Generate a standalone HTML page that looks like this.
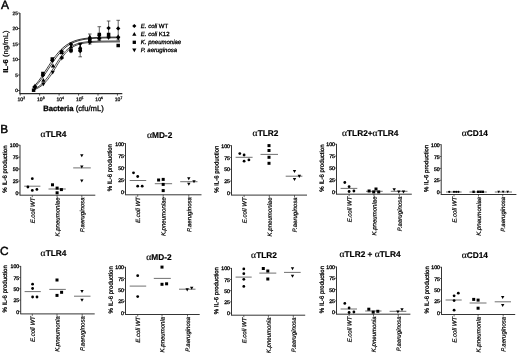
<!DOCTYPE html>
<html><head><meta charset="utf-8"><style>
html,body{margin:0;padding:0;background:#fff;width:520px;height:353px;overflow:hidden}
svg{display:block;filter:grayscale(100%) blur(0.3px);text-rendering:geometricPrecision}
text{fill:#000;stroke:#000;stroke-width:0.3px}
</style></head><body>
<svg width="520" height="353" viewBox="0 0 520 353">
<text x="1.0" y="8.7" font-size="12" style="stroke-width:0.45px" font-family="Liberation Sans, sans-serif">A</text>
<line x1="19.9" y1="13" x2="19.9" y2="93.6" stroke="#2a2a2a" stroke-width="1.2"/>
<line x1="19.299999999999997" y1="93.6" x2="122.3" y2="93.6" stroke="#2a2a2a" stroke-width="1.2"/>
<line x1="17.9" y1="90.50" x2="19.9" y2="90.50" stroke="#2a2a2a" stroke-width="0.8"/>
<text x="17.9" y="92.25" font-size="4.75" text-anchor="end" style="stroke-width:0.25px" font-family="Liberation Sans, sans-serif">0</text>
<line x1="17.9" y1="75.00" x2="19.9" y2="75.00" stroke="#2a2a2a" stroke-width="0.8"/>
<text x="17.9" y="76.75" font-size="4.75" text-anchor="end" style="stroke-width:0.25px" font-family="Liberation Sans, sans-serif">5</text>
<line x1="17.9" y1="59.50" x2="19.9" y2="59.50" stroke="#2a2a2a" stroke-width="0.8"/>
<text x="17.9" y="61.25" font-size="4.75" text-anchor="end" style="stroke-width:0.25px" font-family="Liberation Sans, sans-serif">10</text>
<line x1="17.9" y1="44.00" x2="19.9" y2="44.00" stroke="#2a2a2a" stroke-width="0.8"/>
<text x="17.9" y="45.75" font-size="4.75" text-anchor="end" style="stroke-width:0.25px" font-family="Liberation Sans, sans-serif">15</text>
<line x1="17.9" y1="28.50" x2="19.9" y2="28.50" stroke="#2a2a2a" stroke-width="0.8"/>
<text x="17.9" y="30.25" font-size="4.75" text-anchor="end" style="stroke-width:0.25px" font-family="Liberation Sans, sans-serif">20</text>
<line x1="17.9" y1="13.00" x2="19.9" y2="13.00" stroke="#2a2a2a" stroke-width="0.8"/>
<text x="17.9" y="14.75" font-size="4.75" text-anchor="end" style="stroke-width:0.25px" font-family="Liberation Sans, sans-serif">25</text>
<line x1="20.20" y1="93.6" x2="20.20" y2="95.6" stroke="#2a2a2a" stroke-width="0.8"/>
<text x="21.30" y="101.0" font-size="5.1" text-anchor="middle" style="stroke-width:0.25px" font-family="Liberation Sans, sans-serif">10<tspan font-size="3.3" dy="-2">2</tspan></text>
<line x1="39.65" y1="93.6" x2="39.65" y2="95.6" stroke="#2a2a2a" stroke-width="0.8"/>
<text x="40.75" y="101.0" font-size="5.1" text-anchor="middle" style="stroke-width:0.25px" font-family="Liberation Sans, sans-serif">10<tspan font-size="3.3" dy="-2">3</tspan></text>
<line x1="59.10" y1="93.6" x2="59.10" y2="95.6" stroke="#2a2a2a" stroke-width="0.8"/>
<text x="60.20" y="101.0" font-size="5.1" text-anchor="middle" style="stroke-width:0.25px" font-family="Liberation Sans, sans-serif">10<tspan font-size="3.3" dy="-2">4</tspan></text>
<line x1="78.55" y1="93.6" x2="78.55" y2="95.6" stroke="#2a2a2a" stroke-width="0.8"/>
<text x="79.65" y="101.0" font-size="5.1" text-anchor="middle" style="stroke-width:0.25px" font-family="Liberation Sans, sans-serif">10<tspan font-size="3.3" dy="-2">5</tspan></text>
<line x1="98.00" y1="93.6" x2="98.00" y2="95.6" stroke="#2a2a2a" stroke-width="0.8"/>
<text x="99.10" y="101.0" font-size="5.1" text-anchor="middle" style="stroke-width:0.25px" font-family="Liberation Sans, sans-serif">10<tspan font-size="3.3" dy="-2">6</tspan></text>
<line x1="117.45" y1="93.6" x2="117.45" y2="95.6" stroke="#2a2a2a" stroke-width="0.8"/>
<text x="118.55" y="101.0" font-size="5.1" text-anchor="middle" style="stroke-width:0.25px" font-family="Liberation Sans, sans-serif">10<tspan font-size="3.3" dy="-2">7</tspan></text>
<text x="73.5" y="111" font-size="7.7" text-anchor="middle" font-family="Liberation Sans, sans-serif"><tspan font-weight="bold">Bacteria</tspan> (cfu/mL)</text>
<text transform="translate(8.0,51.6) rotate(-90)" x="-21.2" font-size="7.1" textLength="42.4" lengthAdjust="spacingAndGlyphs" style="stroke-width:0.22px" font-family="Liberation Sans, sans-serif"><tspan font-weight="bold">IL-6</tspan> (ng/mL)</text>
<path d="M34.0,86.41 L35.0,85.31 L36.0,84.15 L37.0,82.93 L38.0,81.66 L39.0,80.33 L40.0,78.96 L41.0,77.54 L42.0,76.09 L43.0,74.60 L44.0,73.08 L45.0,71.54 L46.0,69.99 L47.0,68.44 L48.0,66.88 L49.0,65.34 L50.0,63.81 L51.0,62.30 L52.0,60.83 L53.0,59.39 L54.0,57.99 L55.0,56.63 L56.0,55.33 L57.0,54.08 L58.0,52.88 L59.0,51.74 L60.0,50.66 L61.0,49.64 L62.0,48.68 L63.0,47.77 L64.0,46.92 L65.0,46.13 L66.0,45.39 L67.0,44.70 L68.0,44.06 L69.0,43.47 L70.0,42.92 L71.0,42.42 L72.0,41.95 L73.0,41.52 L74.0,41.13 L75.0,40.76 L76.0,40.43 L77.0,40.13 L78.0,39.85 L79.0,39.59 L80.0,39.36 L81.0,39.15 L82.0,38.95 L83.0,38.77 L84.0,38.61 L85.0,38.47 L86.0,38.33 L87.0,38.21 L88.0,38.10 L89.0,38.00 L90.0,37.91 L91.0,37.82 L92.0,37.75 L93.0,37.68 L94.0,37.61 L95.0,37.56 L96.0,37.51 L97.0,37.46 L98.0,37.42 L99.0,37.38 L100.0,37.34 L101.0,37.31 L102.0,37.28 L103.0,37.26 L104.0,37.23 L105.0,37.21 L106.0,37.19 L107.0,37.17 L108.0,37.16 L109.0,37.14 L110.0,37.13 L111.0,37.12 L112.0,37.11 L113.0,37.10 L114.0,37.09 L115.0,37.08 L116.0,37.07 L117.0,37.07 L118.0,37.06 L119.0,37.05 L120.0,37.05" fill="none" stroke="#222" stroke-width="0.9"/>
<path d="M34.0,87.63 L35.0,86.68 L36.0,85.66 L37.0,84.59 L38.0,83.46 L39.0,82.27 L40.0,81.03 L41.0,79.73 L42.0,78.39 L43.0,77.00 L44.0,75.57 L45.0,74.10 L46.0,72.61 L47.0,71.10 L48.0,69.58 L49.0,68.04 L50.0,66.51 L51.0,64.99 L52.0,63.49 L53.0,62.01 L54.0,60.56 L55.0,59.14 L56.0,57.77 L57.0,56.44 L58.0,55.17 L59.0,53.95 L60.0,52.78 L61.0,51.67 L62.0,50.62 L63.0,49.63 L64.0,48.70 L65.0,47.83 L66.0,47.01 L67.0,46.25 L68.0,45.54 L69.0,44.88 L70.0,44.27 L71.0,43.71 L72.0,43.19 L73.0,42.71 L74.0,42.26 L75.0,41.86 L76.0,41.49 L77.0,41.15 L78.0,40.84 L79.0,40.55 L80.0,40.29 L81.0,40.06 L82.0,39.84 L83.0,39.64 L84.0,39.46 L85.0,39.30 L86.0,39.15 L87.0,39.02 L88.0,38.89 L89.0,38.78 L90.0,38.68 L91.0,38.59 L92.0,38.50 L93.0,38.43 L94.0,38.36 L95.0,38.30 L96.0,38.24 L97.0,38.19 L98.0,38.14 L99.0,38.10 L100.0,38.06 L101.0,38.03 L102.0,38.00 L103.0,37.97 L104.0,37.94 L105.0,37.92 L106.0,37.90 L107.0,37.88 L108.0,37.86 L109.0,37.85 L110.0,37.83 L111.0,37.82 L112.0,37.81 L113.0,37.80 L114.0,37.79 L115.0,37.78 L116.0,37.77 L117.0,37.77 L118.0,37.76 L119.0,37.75 L120.0,37.75" fill="none" stroke="#222" stroke-width="0.9"/>
<path d="M34.0,89.15 L35.0,88.68 L36.0,88.15 L37.0,87.57 L38.0,86.94 L39.0,86.23 L40.0,85.46 L41.0,84.62 L42.0,83.71 L43.0,82.71 L44.0,81.64 L45.0,80.49 L46.0,79.27 L47.0,77.97 L48.0,76.60 L49.0,75.16 L50.0,73.67 L51.0,72.13 L52.0,70.55 L53.0,68.95 L54.0,67.32 L55.0,65.70 L56.0,64.09 L57.0,62.50 L58.0,60.94 L59.0,59.43 L60.0,57.97 L61.0,56.57 L62.0,55.24 L63.0,53.99 L64.0,52.81 L65.0,51.71 L66.0,50.68 L67.0,49.74 L68.0,48.86 L69.0,48.07 L70.0,47.34 L71.0,46.67 L72.0,46.07 L73.0,45.53 L74.0,45.04 L75.0,44.60 L76.0,44.20 L77.0,43.84 L78.0,43.53 L79.0,43.24 L80.0,42.99 L81.0,42.76 L82.0,42.56 L83.0,42.38 L84.0,42.22 L85.0,42.08 L86.0,41.96 L87.0,41.85 L88.0,41.75 L89.0,41.66 L90.0,41.59 L91.0,41.52 L92.0,41.46 L93.0,41.40 L94.0,41.36 L95.0,41.32 L96.0,41.28 L97.0,41.25 L98.0,41.22 L99.0,41.19 L100.0,41.17 L101.0,41.15 L102.0,41.13 L103.0,41.12 L104.0,41.10 L105.0,41.09 L106.0,41.08 L107.0,41.07 L108.0,41.06 L109.0,41.06 L110.0,41.05 L111.0,41.04 L112.0,41.04 L113.0,41.03 L114.0,41.03 L115.0,41.03 L116.0,41.02 L117.0,41.02 L118.0,41.02 L119.0,41.02 L120.0,41.01" fill="none" stroke="#333" stroke-width="0.9"/>
<path d="M34.0,89.72 L35.0,89.36 L36.0,88.95 L37.0,88.50 L38.0,87.99 L39.0,87.43 L40.0,86.80 L41.0,86.11 L42.0,85.35 L43.0,84.52 L44.0,83.61 L45.0,82.62 L46.0,81.54 L47.0,80.39 L48.0,79.15 L49.0,77.83 L50.0,76.44 L51.0,74.99 L52.0,73.47 L53.0,71.91 L54.0,70.31 L55.0,68.68 L56.0,67.04 L57.0,65.40 L58.0,63.77 L59.0,62.17 L60.0,60.62 L61.0,59.11 L62.0,57.67 L63.0,56.30 L64.0,55.00 L65.0,53.78 L66.0,52.64 L67.0,51.58 L68.0,50.60 L69.0,49.71 L70.0,48.89 L71.0,48.14 L72.0,47.47 L73.0,46.85 L74.0,46.30 L75.0,45.81 L76.0,45.36 L77.0,44.97 L78.0,44.61 L79.0,44.30 L80.0,44.02 L81.0,43.77 L82.0,43.55 L83.0,43.36 L84.0,43.18 L85.0,43.03 L86.0,42.90 L87.0,42.78 L88.0,42.67 L89.0,42.58 L90.0,42.50 L91.0,42.42 L92.0,42.36 L93.0,42.31 L94.0,42.26 L95.0,42.21 L96.0,42.18 L97.0,42.14 L98.0,42.11 L99.0,42.09 L100.0,42.06 L101.0,42.04 L102.0,42.03 L103.0,42.01 L104.0,42.00 L105.0,41.99 L106.0,41.98 L107.0,41.97 L108.0,41.96 L109.0,41.95 L110.0,41.94 L111.0,41.94 L112.0,41.93 L113.0,41.93 L114.0,41.93 L115.0,41.92 L116.0,41.92 L117.0,41.92 L118.0,41.92 L119.0,41.91 L120.0,41.91" fill="none" stroke="#333" stroke-width="0.9"/>
<line x1="80.2" y1="44" x2="80.2" y2="56.8" stroke="#222" stroke-width="0.7"/>
<line x1="78.4" y1="44" x2="82.0" y2="44" stroke="#222" stroke-width="0.7"/>
<line x1="78.4" y1="56.8" x2="82.0" y2="56.8" stroke="#222" stroke-width="0.7"/>
<line x1="99.3" y1="26.7" x2="99.3" y2="40.5" stroke="#222" stroke-width="0.7"/>
<line x1="97.5" y1="26.7" x2="101.1" y2="26.7" stroke="#222" stroke-width="0.7"/>
<line x1="97.5" y1="40.5" x2="101.1" y2="40.5" stroke="#222" stroke-width="0.7"/>
<line x1="108.6" y1="21" x2="108.6" y2="38" stroke="#222" stroke-width="0.7"/>
<line x1="106.8" y1="21" x2="110.39999999999999" y2="21" stroke="#222" stroke-width="0.7"/>
<line x1="106.8" y1="38" x2="110.39999999999999" y2="38" stroke="#222" stroke-width="0.7"/>
<line x1="118.2" y1="20.3" x2="118.2" y2="40" stroke="#222" stroke-width="0.7"/>
<line x1="116.4" y1="20.3" x2="120.0" y2="20.3" stroke="#222" stroke-width="0.7"/>
<line x1="116.4" y1="40" x2="120.0" y2="40" stroke="#222" stroke-width="0.7"/>
<line x1="89.8" y1="34" x2="89.8" y2="44" stroke="#222" stroke-width="0.7"/>
<line x1="88.0" y1="34" x2="91.6" y2="34" stroke="#222" stroke-width="0.7"/>
<line x1="88.0" y1="44" x2="91.6" y2="44" stroke="#222" stroke-width="0.7"/>
<line x1="71" y1="43" x2="71" y2="52" stroke="#222" stroke-width="0.7"/>
<line x1="69.2" y1="43" x2="72.8" y2="43" stroke="#222" stroke-width="0.7"/>
<line x1="69.2" y1="52" x2="72.8" y2="52" stroke="#222" stroke-width="0.7"/>
<rect x="31.85" y="88.45" width="3.5" height="3.5" fill="#000"/>
<path d="M35.0,83.4 L37.1,87.18 L32.9,87.18 Z" fill="#000"/>
<path d="M34.4,84.8 L36.6,87.0 L34.4,89.2 L32.199999999999996,87.0 Z" fill="#000"/>
<path d="M35.2,90.1 L37.300000000000004,86.32 L33.1,86.32 Z" fill="#000"/>
<rect x="41.15" y="71.75" width="3.5" height="3.5" fill="#000"/>
<path d="M42.9,73.1 L45.1,75.3 L42.9,77.5 L40.699999999999996,75.3 Z" fill="#000"/>
<path d="M43.4,77.9 L45.5,81.68 L41.3,81.68 Z" fill="#000"/>
<path d="M43.4,86.3 L45.5,82.52 L41.3,82.52 Z" fill="#000"/>
<rect x="50.55" y="57.25" width="3.5" height="3.5" fill="#000"/>
<path d="M52.3,58.3 L54.5,60.5 L52.3,62.7 L50.099999999999994,60.5 Z" fill="#000"/>
<path d="M53,63.6 L55.1,67.38000000000001 L50.9,67.38000000000001 Z" fill="#000"/>
<path d="M52.7,74.6 L54.800000000000004,70.82 L50.6,70.82 Z" fill="#000"/>
<path d="M61.6,49.0 L63.800000000000004,51.2 L61.6,53.400000000000006 L59.4,51.2 Z" fill="#000"/>
<rect x="59.85" y="50.75" width="3.5" height="3.5" fill="#000"/>
<path d="M61.8,55.0 L63.9,58.78 L59.699999999999996,58.78 Z" fill="#000"/>
<path d="M61.8,60.6 L63.9,56.82 L59.699999999999996,56.82 Z" fill="#000"/>
<path d="M71,42.099999999999994 L73.2,44.3 L71,46.5 L68.8,44.3 Z" fill="#000"/>
<path d="M71,44.4 L73.1,48.18 L68.9,48.18 Z" fill="#000"/>
<rect x="69.25" y="48.45" width="3.5" height="3.5" fill="#000"/>
<path d="M71,53.6 L73.1,49.82 L68.9,49.82 Z" fill="#000"/>
<path d="M80.2,46.6 L82.3,42.82 L78.10000000000001,42.82 Z" fill="#000"/>
<path d="M80.2,44.9 L82.3,48.68 L78.10000000000001,48.68 Z" fill="#000"/>
<rect x="78.45" y="47.75" width="3.5" height="3.5" fill="#000"/>
<path d="M80.2,48.8 L82.4,51 L80.2,53.2 L78.0,51 Z" fill="#000"/>
<path d="M89.8,34.4 L91.89999999999999,38.18 L87.7,38.18 Z" fill="#000"/>
<path d="M89.8,36.8 L92.0,39 L89.8,41.2 L87.6,39 Z" fill="#000"/>
<rect x="88.05" y="39.25" width="3.5" height="3.5" fill="#000"/>
<path d="M89.8,44.9 L91.89999999999999,41.12 L87.7,41.12 Z" fill="#000"/>
<rect x="97.55" y="32.75" width="3.5" height="3.5" fill="#000"/>
<path d="M99.3,38.6 L101.39999999999999,34.82 L97.2,34.82 Z" fill="#000"/>
<path d="M99.3,35.4 L101.39999999999999,39.18 L97.2,39.18 Z" fill="#000"/>
<path d="M99.3,36.3 L101.5,38.5 L99.3,40.7 L97.1,38.5 Z" fill="#000"/>
<path d="M108.6,25.900000000000002 L110.8,28.1 L108.6,30.3 L106.39999999999999,28.1 Z" fill="#000"/>
<rect x="106.85" y="32.75" width="3.5" height="3.5" fill="#000"/>
<path d="M108.6,34.3 L110.69999999999999,38.08 L106.5,38.08 Z" fill="#000"/>
<path d="M108.6,40.1 L110.69999999999999,36.32 L106.5,36.32 Z" fill="#000"/>
<path d="M118.2,26.2 L120.4,28.4 L118.2,30.599999999999998 L116.0,28.4 Z" fill="#000"/>
<path d="M118.2,34.199999999999996 L120.3,37.98 L116.10000000000001,37.98 Z" fill="#000"/>
<path d="M118.2,40.6 L120.3,36.82 L116.10000000000001,36.82 Z" fill="#000"/>
<rect x="116.45" y="43.75" width="3.5" height="3.5" fill="#000"/>
<path d="M134.3,23.9 L136.4,26 L134.3,28.1 L132.20000000000002,26 Z" fill="#000"/>
<text x="140.8" y="27.75" font-size="6.0" font-family="Liberation Sans, sans-serif"><tspan font-style="italic">E. coli</tspan> WT</text>
<path d="M134.3,31.9 L136.4,35.68 L132.20000000000002,35.68 Z" fill="#000"/>
<text x="140.8" y="35.75" font-size="6.0" font-family="Liberation Sans, sans-serif"><tspan font-style="italic">E. coli</tspan> K12</text>
<rect x="132.65" y="40.65" width="3.3" height="3.3" fill="#000"/>
<text x="140.8" y="44.05" font-size="6.0" font-family="Liberation Sans, sans-serif"><tspan font-style="italic">K. pneumoniae</tspan></text>
<path d="M134.3,52.300000000000004 L136.4,48.52 L132.20000000000002,48.52 Z" fill="#000"/>
<text x="140.8" y="51.95" font-size="6.0" font-family="Liberation Sans, sans-serif"><tspan font-style="italic">P. aeruginosa</tspan></text>
<line x1="20.0" y1="144.89999999999998" x2="20.0" y2="195.2" stroke="#2a2a2a" stroke-width="0.95"/>
<line x1="19.55" y1="195.2" x2="95.3" y2="195.2" stroke="#2a2a2a" stroke-width="0.95"/>
<line x1="18.2" y1="192.90" x2="20.0" y2="192.90" stroke="#2a2a2a" stroke-width="0.7"/>
<text x="18.5" y="195.05" font-size="5.2" text-anchor="end" style="stroke-width:0.3px" font-family="Liberation Sans, sans-serif">0</text>
<line x1="18.2" y1="180.97" x2="20.0" y2="180.97" stroke="#2a2a2a" stroke-width="0.7"/>
<text x="18.5" y="183.12" font-size="5.2" text-anchor="end" style="stroke-width:0.3px" font-family="Liberation Sans, sans-serif">25</text>
<line x1="18.2" y1="169.05" x2="20.0" y2="169.05" stroke="#2a2a2a" stroke-width="0.7"/>
<text x="18.5" y="171.20" font-size="5.2" text-anchor="end" style="stroke-width:0.3px" font-family="Liberation Sans, sans-serif">50</text>
<line x1="18.2" y1="157.12" x2="20.0" y2="157.12" stroke="#2a2a2a" stroke-width="0.7"/>
<text x="18.5" y="159.28" font-size="5.2" text-anchor="end" style="stroke-width:0.3px" font-family="Liberation Sans, sans-serif">75</text>
<line x1="18.2" y1="145.20" x2="20.0" y2="145.20" stroke="#2a2a2a" stroke-width="0.7"/>
<text x="18.5" y="147.35" font-size="5.2" text-anchor="end" style="stroke-width:0.3px" font-family="Liberation Sans, sans-serif">100</text>
<line x1="32.3" y1="195.2" x2="32.3" y2="197.2" stroke="#2a2a2a" stroke-width="0.7"/>
<text transform="translate(34.70,197.50) rotate(-89.95)" font-size="6.05" font-style="italic" text-anchor="end" style="stroke-width:0.22px" font-family="Liberation Sans, sans-serif">E.coli WT</text>
<line x1="57.1" y1="195.2" x2="57.1" y2="197.2" stroke="#2a2a2a" stroke-width="0.7"/>
<text transform="translate(59.50,197.50) rotate(-89.95)" font-size="6.05" font-style="italic" text-anchor="end" style="stroke-width:0.22px" font-family="Liberation Sans, sans-serif">K.pneumoniae</text>
<line x1="81.8" y1="195.2" x2="81.8" y2="197.2" stroke="#2a2a2a" stroke-width="0.7"/>
<text transform="translate(84.20,197.50) rotate(-89.95)" font-size="6.05" font-style="italic" text-anchor="end" style="stroke-width:0.22px" font-family="Liberation Sans, sans-serif">P.aeruginosa</text>
<text x="53.5" y="136.5" font-size="8.3" font-weight="bold" text-anchor="middle" style="stroke-width:0.18px" font-family="Liberation Sans, sans-serif"><tspan font-weight="normal" font-family="Liberation Serif, serif" font-size="9.6">α</tspan>TLR4</text>
<text transform="translate(6.87,169.05) rotate(-89.95)" x="-23.6" font-size="6.0" textLength="47.2" lengthAdjust="spacingAndGlyphs" style="stroke-width:0.3px" font-family="Liberation Sans, sans-serif">% IL-6 production</text>
<line x1="24.2" y1="186.2" x2="40.4" y2="186.2" stroke="#333" stroke-width="0.7"/>
<circle cx="27.9" cy="187" r="1.4" fill="#000"/>
<circle cx="32.3" cy="178.7" r="1.4" fill="#000"/>
<circle cx="32.3" cy="190.4" r="1.4" fill="#000"/>
<circle cx="36.9" cy="189.4" r="1.4" fill="#000"/>
<line x1="48.5" y1="189" x2="65.8" y2="189" stroke="#333" stroke-width="0.7"/>
<rect x="51.0" y="183.3" width="3.0" height="3.0" fill="#000"/>
<rect x="55.6" y="186.6" width="3.0" height="3.0" fill="#000"/>
<rect x="55.6" y="191.3" width="3.0" height="3.0" fill="#000"/>
<rect x="59.9" y="188.1" width="3.0" height="3.0" fill="#000"/>
<line x1="73.2" y1="167.9" x2="90.8" y2="167.9" stroke="#333" stroke-width="0.7"/>
<path d="M81.8,157.2 L83.5,154.14 L80.1,154.14 Z" fill="#000"/>
<path d="M81.8,168.5 L83.5,165.44 L80.1,165.44 Z" fill="#000"/>
<path d="M81.8,182.5 L83.5,179.44 L80.1,179.44 Z" fill="#000"/>
<line x1="125.5" y1="143.2" x2="125.5" y2="194.8" stroke="#2a2a2a" stroke-width="0.95"/>
<line x1="125.05" y1="194.8" x2="201.5" y2="194.8" stroke="#2a2a2a" stroke-width="0.95"/>
<line x1="123.7" y1="192.00" x2="125.5" y2="192.00" stroke="#2a2a2a" stroke-width="0.7"/>
<text x="124.0" y="194.15" font-size="5.2" text-anchor="end" style="stroke-width:0.3px" font-family="Liberation Sans, sans-serif">0</text>
<line x1="123.7" y1="179.88" x2="125.5" y2="179.88" stroke="#2a2a2a" stroke-width="0.7"/>
<text x="124.0" y="182.03" font-size="5.2" text-anchor="end" style="stroke-width:0.3px" font-family="Liberation Sans, sans-serif">25</text>
<line x1="123.7" y1="167.75" x2="125.5" y2="167.75" stroke="#2a2a2a" stroke-width="0.7"/>
<text x="124.0" y="169.90" font-size="5.2" text-anchor="end" style="stroke-width:0.3px" font-family="Liberation Sans, sans-serif">50</text>
<line x1="123.7" y1="155.62" x2="125.5" y2="155.62" stroke="#2a2a2a" stroke-width="0.7"/>
<text x="124.0" y="157.78" font-size="5.2" text-anchor="end" style="stroke-width:0.3px" font-family="Liberation Sans, sans-serif">75</text>
<line x1="123.7" y1="143.50" x2="125.5" y2="143.50" stroke="#2a2a2a" stroke-width="0.7"/>
<text x="124.0" y="145.65" font-size="5.2" text-anchor="end" style="stroke-width:0.3px" font-family="Liberation Sans, sans-serif">100</text>
<line x1="137.7" y1="194.8" x2="137.7" y2="196.8" stroke="#2a2a2a" stroke-width="0.7"/>
<text transform="translate(140.10,197.10) rotate(-89.95)" font-size="6.05" font-style="italic" text-anchor="end" style="stroke-width:0.22px" font-family="Liberation Sans, sans-serif">E.coli WT</text>
<line x1="163.2" y1="194.8" x2="163.2" y2="196.8" stroke="#2a2a2a" stroke-width="0.7"/>
<text transform="translate(165.60,197.10) rotate(-89.95)" font-size="6.05" font-style="italic" text-anchor="end" style="stroke-width:0.22px" font-family="Liberation Sans, sans-serif">K.pneumoniae</text>
<line x1="188.8" y1="194.8" x2="188.8" y2="196.8" stroke="#2a2a2a" stroke-width="0.7"/>
<text transform="translate(191.20,197.10) rotate(-89.95)" font-size="6.05" font-style="italic" text-anchor="end" style="stroke-width:0.22px" font-family="Liberation Sans, sans-serif">P.aeruginosa</text>
<text x="159.6" y="137.6" font-size="8.3" font-weight="bold" text-anchor="middle" style="stroke-width:0.18px" font-family="Liberation Sans, sans-serif"><tspan font-weight="normal" font-family="Liberation Serif, serif" font-size="9.6">α</tspan>MD-2</text>
<text transform="translate(111.77,167.75) rotate(-89.95)" x="-23.6" font-size="6.0" textLength="47.2" lengthAdjust="spacingAndGlyphs" style="stroke-width:0.3px" font-family="Liberation Sans, sans-serif">% IL-6 production</text>
<line x1="129.7" y1="180.5" x2="146.2" y2="180.5" stroke="#333" stroke-width="0.7"/>
<circle cx="133.5" cy="172.8" r="1.4" fill="#000"/>
<circle cx="137.7" cy="176.5" r="1.4" fill="#000"/>
<circle cx="137.7" cy="186.2" r="1.4" fill="#000"/>
<circle cx="142.2" cy="186.2" r="1.4" fill="#000"/>
<line x1="154.8" y1="183.7" x2="172.1" y2="183.7" stroke="#333" stroke-width="0.7"/>
<rect x="157.1" y="178.5" width="3.0" height="3.0" fill="#000"/>
<rect x="161.7" y="177.9" width="3.0" height="3.0" fill="#000"/>
<rect x="161.7" y="182.9" width="3.0" height="3.0" fill="#000"/>
<rect x="161.7" y="189.1" width="3.0" height="3.0" fill="#000"/>
<line x1="180.2" y1="181.7" x2="197.5" y2="181.7" stroke="#333" stroke-width="0.7"/>
<path d="M188.8,180.29999999999998 L190.5,177.23999999999998 L187.10000000000002,177.23999999999998 Z" fill="#000"/>
<path d="M188.8,185.7 L190.5,182.64 L187.10000000000002,182.64 Z" fill="#000"/>
<path d="M194,183.2 L195.7,180.14 L192.3,180.14 Z" fill="#000"/>
<line x1="231.5" y1="145.29999999999998" x2="231.5" y2="195.1" stroke="#2a2a2a" stroke-width="0.95"/>
<line x1="231.05" y1="195.1" x2="307" y2="195.1" stroke="#2a2a2a" stroke-width="0.95"/>
<line x1="229.7" y1="192.90" x2="231.5" y2="192.90" stroke="#2a2a2a" stroke-width="0.7"/>
<text x="230.0" y="195.05" font-size="5.2" text-anchor="end" style="stroke-width:0.3px" font-family="Liberation Sans, sans-serif">0</text>
<line x1="229.7" y1="181.07" x2="231.5" y2="181.07" stroke="#2a2a2a" stroke-width="0.7"/>
<text x="230.0" y="183.22" font-size="5.2" text-anchor="end" style="stroke-width:0.3px" font-family="Liberation Sans, sans-serif">25</text>
<line x1="229.7" y1="169.25" x2="231.5" y2="169.25" stroke="#2a2a2a" stroke-width="0.7"/>
<text x="230.0" y="171.40" font-size="5.2" text-anchor="end" style="stroke-width:0.3px" font-family="Liberation Sans, sans-serif">50</text>
<line x1="229.7" y1="157.43" x2="231.5" y2="157.43" stroke="#2a2a2a" stroke-width="0.7"/>
<text x="230.0" y="159.58" font-size="5.2" text-anchor="end" style="stroke-width:0.3px" font-family="Liberation Sans, sans-serif">75</text>
<line x1="229.7" y1="145.60" x2="231.5" y2="145.60" stroke="#2a2a2a" stroke-width="0.7"/>
<text x="230.0" y="147.75" font-size="5.2" text-anchor="end" style="stroke-width:0.3px" font-family="Liberation Sans, sans-serif">100</text>
<line x1="244.1" y1="195.1" x2="244.1" y2="197.1" stroke="#2a2a2a" stroke-width="0.7"/>
<text transform="translate(246.50,197.40) rotate(-89.95)" font-size="6.05" font-style="italic" text-anchor="end" style="stroke-width:0.22px" font-family="Liberation Sans, sans-serif">E.coli WT</text>
<line x1="269.3" y1="195.1" x2="269.3" y2="197.1" stroke="#2a2a2a" stroke-width="0.7"/>
<text transform="translate(271.70,197.40) rotate(-89.95)" font-size="6.05" font-style="italic" text-anchor="end" style="stroke-width:0.22px" font-family="Liberation Sans, sans-serif">K.pneumoniae</text>
<line x1="294.5" y1="195.1" x2="294.5" y2="197.1" stroke="#2a2a2a" stroke-width="0.7"/>
<text transform="translate(296.90,197.40) rotate(-89.95)" font-size="6.05" font-style="italic" text-anchor="end" style="stroke-width:0.22px" font-family="Liberation Sans, sans-serif">P.aeruginosa</text>
<text x="265.5" y="136.2" font-size="8.3" font-weight="bold" text-anchor="middle" style="stroke-width:0.18px" font-family="Liberation Sans, sans-serif"><tspan font-weight="normal" font-family="Liberation Serif, serif" font-size="9.6">α</tspan>TLR2</text>
<text transform="translate(218.47,169.25) rotate(-89.95)" x="-23.6" font-size="6.0" textLength="47.2" lengthAdjust="spacingAndGlyphs" style="stroke-width:0.3px" font-family="Liberation Sans, sans-serif">% IL-6 production</text>
<line x1="235.6" y1="157.3" x2="252.6" y2="157.3" stroke="#333" stroke-width="0.7"/>
<circle cx="239.8" cy="153.6" r="1.4" fill="#000"/>
<circle cx="244.1" cy="155" r="1.4" fill="#000"/>
<circle cx="244.1" cy="161.2" r="1.4" fill="#000"/>
<circle cx="248.9" cy="159.9" r="1.4" fill="#000"/>
<line x1="260.5" y1="154.4" x2="278" y2="154.4" stroke="#333" stroke-width="0.7"/>
<rect x="267.5" y="144.1" width="3.0" height="3.0" fill="#000"/>
<rect x="267.5" y="149.0" width="3.0" height="3.0" fill="#000"/>
<rect x="267.5" y="155.8" width="3.0" height="3.0" fill="#000"/>
<rect x="267.5" y="161.8" width="3.0" height="3.0" fill="#000"/>
<line x1="285.7" y1="176.2" x2="302.4" y2="176.2" stroke="#333" stroke-width="0.7"/>
<path d="M294.5,173.1 L296.2,170.04 L292.8,170.04 Z" fill="#000"/>
<path d="M294.5,181.1 L296.2,178.04 L292.8,178.04 Z" fill="#000"/>
<path d="M299.3,177.89999999999998 L301.0,174.83999999999997 L297.6,174.83999999999997 Z" fill="#000"/>
<line x1="336.5" y1="143.89999999999998" x2="336.5" y2="194.2" stroke="#2a2a2a" stroke-width="0.95"/>
<line x1="336.05" y1="194.2" x2="411.8" y2="194.2" stroke="#2a2a2a" stroke-width="0.95"/>
<line x1="334.7" y1="191.90" x2="336.5" y2="191.90" stroke="#2a2a2a" stroke-width="0.7"/>
<text x="335.0" y="194.05" font-size="5.2" text-anchor="end" style="stroke-width:0.3px" font-family="Liberation Sans, sans-serif">0</text>
<line x1="334.7" y1="179.97" x2="336.5" y2="179.97" stroke="#2a2a2a" stroke-width="0.7"/>
<text x="335.0" y="182.12" font-size="5.2" text-anchor="end" style="stroke-width:0.3px" font-family="Liberation Sans, sans-serif">25</text>
<line x1="334.7" y1="168.05" x2="336.5" y2="168.05" stroke="#2a2a2a" stroke-width="0.7"/>
<text x="335.0" y="170.20" font-size="5.2" text-anchor="end" style="stroke-width:0.3px" font-family="Liberation Sans, sans-serif">50</text>
<line x1="334.7" y1="156.12" x2="336.5" y2="156.12" stroke="#2a2a2a" stroke-width="0.7"/>
<text x="335.0" y="158.28" font-size="5.2" text-anchor="end" style="stroke-width:0.3px" font-family="Liberation Sans, sans-serif">75</text>
<line x1="334.7" y1="144.20" x2="336.5" y2="144.20" stroke="#2a2a2a" stroke-width="0.7"/>
<text x="335.0" y="146.35" font-size="5.2" text-anchor="end" style="stroke-width:0.3px" font-family="Liberation Sans, sans-serif">100</text>
<line x1="349.1" y1="194.2" x2="349.1" y2="196.2" stroke="#2a2a2a" stroke-width="0.7"/>
<text transform="translate(351.50,196.50) rotate(-89.95)" font-size="6.05" font-style="italic" text-anchor="end" style="stroke-width:0.22px" font-family="Liberation Sans, sans-serif">E.coli WT</text>
<line x1="374" y1="194.2" x2="374" y2="196.2" stroke="#2a2a2a" stroke-width="0.7"/>
<text transform="translate(376.40,196.50) rotate(-89.95)" font-size="6.05" font-style="italic" text-anchor="end" style="stroke-width:0.22px" font-family="Liberation Sans, sans-serif">K.pneumoniae</text>
<line x1="399.4" y1="194.2" x2="399.4" y2="196.2" stroke="#2a2a2a" stroke-width="0.7"/>
<text transform="translate(401.80,196.50) rotate(-89.95)" font-size="6.05" font-style="italic" text-anchor="end" style="stroke-width:0.22px" font-family="Liberation Sans, sans-serif">P.aeruginosa</text>
<text x="370.2" y="136.4" font-size="8.3" font-weight="bold" text-anchor="middle" style="stroke-width:0.18px" font-family="Liberation Sans, sans-serif"><tspan font-weight="normal" font-family="Liberation Serif, serif" font-size="9.6">α</tspan>TLR2+<tspan font-weight="normal" font-family="Liberation Serif, serif" font-size="9.6">α</tspan>TLR4</text>
<text transform="translate(323.87,168.05) rotate(-89.95)" x="-23.6" font-size="6.0" textLength="47.2" lengthAdjust="spacingAndGlyphs" style="stroke-width:0.3px" font-family="Liberation Sans, sans-serif">% IL-6 production</text>
<line x1="340.6" y1="188.4" x2="357.3" y2="188.4" stroke="#333" stroke-width="0.7"/>
<circle cx="344.8" cy="182.5" r="1.4" fill="#000"/>
<circle cx="349.1" cy="186.7" r="1.4" fill="#000"/>
<circle cx="349.1" cy="191.5" r="1.4" fill="#000"/>
<circle cx="353.9" cy="191" r="1.4" fill="#000"/>
<line x1="366" y1="191.3" x2="382.7" y2="191.3" stroke="#333" stroke-width="0.7"/>
<rect x="367.6" y="189.5" width="3.0" height="3.0" fill="#000"/>
<rect x="372.2" y="190.4" width="3.0" height="3.0" fill="#000"/>
<rect x="374.5" y="187.5" width="3.0" height="3.0" fill="#000"/>
<rect x="377.2" y="190.4" width="3.0" height="3.0" fill="#000"/>
<line x1="390.8" y1="191.3" x2="407.5" y2="191.3" stroke="#333" stroke-width="0.7"/>
<path d="M394.2,191.29999999999998 L395.9,188.23999999999998 L392.5,188.23999999999998 Z" fill="#000"/>
<path d="M398.8,193.6 L400.5,190.54 L397.1,190.54 Z" fill="#000"/>
<path d="M403.5,193.6 L405.2,190.54 L401.8,190.54 Z" fill="#000"/>
<line x1="441.2" y1="144.29999999999998" x2="441.2" y2="194.5" stroke="#2a2a2a" stroke-width="0.95"/>
<line x1="440.75" y1="194.5" x2="516.4" y2="194.5" stroke="#2a2a2a" stroke-width="0.95"/>
<line x1="439.4" y1="192.20" x2="441.2" y2="192.20" stroke="#2a2a2a" stroke-width="0.7"/>
<text x="439.7" y="194.35" font-size="5.2" text-anchor="end" style="stroke-width:0.3px" font-family="Liberation Sans, sans-serif">0</text>
<line x1="439.4" y1="180.30" x2="441.2" y2="180.30" stroke="#2a2a2a" stroke-width="0.7"/>
<text x="439.7" y="182.45" font-size="5.2" text-anchor="end" style="stroke-width:0.3px" font-family="Liberation Sans, sans-serif">25</text>
<line x1="439.4" y1="168.40" x2="441.2" y2="168.40" stroke="#2a2a2a" stroke-width="0.7"/>
<text x="439.7" y="170.55" font-size="5.2" text-anchor="end" style="stroke-width:0.3px" font-family="Liberation Sans, sans-serif">50</text>
<line x1="439.4" y1="156.50" x2="441.2" y2="156.50" stroke="#2a2a2a" stroke-width="0.7"/>
<text x="439.7" y="158.65" font-size="5.2" text-anchor="end" style="stroke-width:0.3px" font-family="Liberation Sans, sans-serif">75</text>
<line x1="439.4" y1="144.60" x2="441.2" y2="144.60" stroke="#2a2a2a" stroke-width="0.7"/>
<text x="439.7" y="146.75" font-size="5.2" text-anchor="end" style="stroke-width:0.3px" font-family="Liberation Sans, sans-serif">100</text>
<line x1="454" y1="194.5" x2="454" y2="196.5" stroke="#2a2a2a" stroke-width="0.7"/>
<text transform="translate(456.40,196.80) rotate(-89.95)" font-size="6.05" font-style="italic" text-anchor="end" style="stroke-width:0.22px" font-family="Liberation Sans, sans-serif">E.coli WT</text>
<line x1="478.5" y1="194.5" x2="478.5" y2="196.5" stroke="#2a2a2a" stroke-width="0.7"/>
<text transform="translate(480.90,196.80) rotate(-89.95)" font-size="6.05" font-style="italic" text-anchor="end" style="stroke-width:0.22px" font-family="Liberation Sans, sans-serif">K.pneumoniae</text>
<line x1="502.7" y1="194.5" x2="502.7" y2="196.5" stroke="#2a2a2a" stroke-width="0.7"/>
<text transform="translate(505.10,196.80) rotate(-89.95)" font-size="6.05" font-style="italic" text-anchor="end" style="stroke-width:0.22px" font-family="Liberation Sans, sans-serif">P.aeruginosa</text>
<text x="474.8" y="136.1" font-size="8.3" font-weight="bold" text-anchor="middle" style="stroke-width:0.18px" font-family="Liberation Sans, sans-serif"><tspan font-weight="normal" font-family="Liberation Serif, serif" font-size="9.6">α</tspan>CD14</text>
<text transform="translate(428.27,168.40) rotate(-89.95)" x="-23.6" font-size="6.0" textLength="47.2" lengthAdjust="spacingAndGlyphs" style="stroke-width:0.3px" font-family="Liberation Sans, sans-serif">% IL-6 production</text>
<line x1="446" y1="192" x2="461.6" y2="192" stroke="#333" stroke-width="0.7"/>
<circle cx="449.2" cy="191.8" r="1.1199999999999999" fill="#000"/>
<circle cx="454" cy="191.8" r="1.1199999999999999" fill="#000"/>
<circle cx="456.2" cy="191.8" r="1.1199999999999999" fill="#000"/>
<circle cx="458.4" cy="191.8" r="1.1199999999999999" fill="#000"/>
<line x1="469.5" y1="192" x2="486.8" y2="192" stroke="#333" stroke-width="0.7"/>
<rect x="472.40000000000003" y="190.60000000000002" width="2.4000000000000004" height="2.4000000000000004" fill="#000"/>
<rect x="477.0" y="190.60000000000002" width="2.4000000000000004" height="2.4000000000000004" fill="#000"/>
<rect x="479.3" y="190.60000000000002" width="2.4000000000000004" height="2.4000000000000004" fill="#000"/>
<rect x="481.6" y="190.60000000000002" width="2.4000000000000004" height="2.4000000000000004" fill="#000"/>
<line x1="494.8" y1="192" x2="512" y2="192" stroke="#333" stroke-width="0.7"/>
<path d="M498.7,193.16000000000003 L500.06,190.71200000000002 L497.34,190.71200000000002 Z" fill="#000"/>
<path d="M503.1,193.16000000000003 L504.46000000000004,190.71200000000002 L501.74,190.71200000000002 Z" fill="#000"/>
<path d="M507.7,193.16000000000003 L509.06,190.71200000000002 L506.34,190.71200000000002 Z" fill="#000"/>
<text x="0.2" y="132.7" font-size="11.8" style="stroke-width:0.45px" font-family="Liberation Sans, sans-serif">B</text>
<text x="0.0" y="255.0" font-size="11.8" style="stroke-width:0.45px" font-family="Liberation Sans, sans-serif">C</text>
<line x1="20.7" y1="266.0" x2="20.7" y2="313.9" stroke="#2a2a2a" stroke-width="0.95"/>
<line x1="20.25" y1="313.9" x2="94.7" y2="313.9" stroke="#2a2a2a" stroke-width="0.95"/>
<line x1="18.9" y1="311.40" x2="20.7" y2="311.40" stroke="#2a2a2a" stroke-width="0.7"/>
<text x="19.2" y="313.55" font-size="5.2" text-anchor="end" style="stroke-width:0.3px" font-family="Liberation Sans, sans-serif">0</text>
<line x1="18.9" y1="300.12" x2="20.7" y2="300.12" stroke="#2a2a2a" stroke-width="0.7"/>
<text x="19.2" y="302.27" font-size="5.2" text-anchor="end" style="stroke-width:0.3px" font-family="Liberation Sans, sans-serif">25</text>
<line x1="18.9" y1="288.85" x2="20.7" y2="288.85" stroke="#2a2a2a" stroke-width="0.7"/>
<text x="19.2" y="291.00" font-size="5.2" text-anchor="end" style="stroke-width:0.3px" font-family="Liberation Sans, sans-serif">50</text>
<line x1="18.9" y1="277.57" x2="20.7" y2="277.57" stroke="#2a2a2a" stroke-width="0.7"/>
<text x="19.2" y="279.72" font-size="5.2" text-anchor="end" style="stroke-width:0.3px" font-family="Liberation Sans, sans-serif">75</text>
<line x1="18.9" y1="266.30" x2="20.7" y2="266.30" stroke="#2a2a2a" stroke-width="0.7"/>
<text x="19.2" y="268.45" font-size="5.2" text-anchor="end" style="stroke-width:0.3px" font-family="Liberation Sans, sans-serif">100</text>
<line x1="32.3" y1="313.9" x2="32.3" y2="315.9" stroke="#2a2a2a" stroke-width="0.7"/>
<text transform="translate(34.70,316.20) rotate(-89.95)" font-size="6.05" font-style="italic" text-anchor="end" style="stroke-width:0.22px" font-family="Liberation Sans, sans-serif">E.coli WT</text>
<line x1="57" y1="313.9" x2="57" y2="315.9" stroke="#2a2a2a" stroke-width="0.7"/>
<text transform="translate(59.40,316.20) rotate(-89.95)" font-size="6.05" font-style="italic" text-anchor="end" style="stroke-width:0.22px" font-family="Liberation Sans, sans-serif">K.pneumonia</text>
<line x1="82.2" y1="313.9" x2="82.2" y2="315.9" stroke="#2a2a2a" stroke-width="0.7"/>
<text transform="translate(84.60,316.20) rotate(-89.95)" font-size="6.05" font-style="italic" text-anchor="end" style="stroke-width:0.22px" font-family="Liberation Sans, sans-serif">P.aeruginosa</text>
<text x="53.5" y="256.1" font-size="8.3" font-weight="bold" text-anchor="middle" style="stroke-width:0.18px" font-family="Liberation Sans, sans-serif"><tspan font-weight="normal" font-family="Liberation Serif, serif" font-size="9.6">α</tspan>TLR4</text>
<text transform="translate(6.87,288.85) rotate(-89.95)" x="-23.6" font-size="6.0" textLength="47.2" lengthAdjust="spacingAndGlyphs" style="stroke-width:0.3px" font-family="Liberation Sans, sans-serif">% IL-6 production</text>
<line x1="24.6" y1="291.6" x2="40.8" y2="291.6" stroke="#333" stroke-width="0.7"/>
<circle cx="32.6" cy="284.2" r="1.4" fill="#000"/>
<circle cx="32.6" cy="288.5" r="1.4" fill="#000"/>
<circle cx="32.6" cy="297" r="1.4" fill="#000"/>
<circle cx="37" cy="297" r="1.4" fill="#000"/>
<line x1="49.3" y1="289.4" x2="65.8" y2="289.4" stroke="#333" stroke-width="0.7"/>
<rect x="55.5" y="278.5" width="3.0" height="3.0" fill="#000"/>
<rect x="60.1" y="290.8" width="3.0" height="3.0" fill="#000"/>
<rect x="55.5" y="293.9" width="3.0" height="3.0" fill="#000"/>
<line x1="74" y1="296.2" x2="90.5" y2="296.2" stroke="#333" stroke-width="0.7"/>
<path d="M82,293.09999999999997 L83.7,290.03999999999996 L80.3,290.03999999999996 Z" fill="#000"/>
<path d="M82,301.7 L83.7,298.64 L80.3,298.64 Z" fill="#000"/>
<line x1="125.5" y1="266.9" x2="125.5" y2="314.5" stroke="#2a2a2a" stroke-width="0.95"/>
<line x1="125.05" y1="314.5" x2="199.7" y2="314.5" stroke="#2a2a2a" stroke-width="0.95"/>
<line x1="123.7" y1="312.40" x2="125.5" y2="312.40" stroke="#2a2a2a" stroke-width="0.7"/>
<text x="124.0" y="314.55" font-size="5.2" text-anchor="end" style="stroke-width:0.3px" font-family="Liberation Sans, sans-serif">0</text>
<line x1="123.7" y1="301.10" x2="125.5" y2="301.10" stroke="#2a2a2a" stroke-width="0.7"/>
<text x="124.0" y="303.25" font-size="5.2" text-anchor="end" style="stroke-width:0.3px" font-family="Liberation Sans, sans-serif">25</text>
<line x1="123.7" y1="289.80" x2="125.5" y2="289.80" stroke="#2a2a2a" stroke-width="0.7"/>
<text x="124.0" y="291.95" font-size="5.2" text-anchor="end" style="stroke-width:0.3px" font-family="Liberation Sans, sans-serif">50</text>
<line x1="123.7" y1="278.50" x2="125.5" y2="278.50" stroke="#2a2a2a" stroke-width="0.7"/>
<text x="124.0" y="280.65" font-size="5.2" text-anchor="end" style="stroke-width:0.3px" font-family="Liberation Sans, sans-serif">75</text>
<line x1="123.7" y1="267.20" x2="125.5" y2="267.20" stroke="#2a2a2a" stroke-width="0.7"/>
<text x="124.0" y="269.35" font-size="5.2" text-anchor="end" style="stroke-width:0.3px" font-family="Liberation Sans, sans-serif">100</text>
<line x1="137.7" y1="314.5" x2="137.7" y2="316.5" stroke="#2a2a2a" stroke-width="0.7"/>
<text transform="translate(140.10,316.80) rotate(-89.95)" font-size="6.05" font-style="italic" text-anchor="end" style="stroke-width:0.22px" font-family="Liberation Sans, sans-serif">E.coli WT</text>
<line x1="162" y1="314.5" x2="162" y2="316.5" stroke="#2a2a2a" stroke-width="0.7"/>
<text transform="translate(164.40,316.80) rotate(-89.95)" font-size="6.05" font-style="italic" text-anchor="end" style="stroke-width:0.22px" font-family="Liberation Sans, sans-serif">K.pneumonia</text>
<line x1="187.5" y1="314.5" x2="187.5" y2="316.5" stroke="#2a2a2a" stroke-width="0.7"/>
<text transform="translate(189.90,316.80) rotate(-89.95)" font-size="6.05" font-style="italic" text-anchor="end" style="stroke-width:0.22px" font-family="Liberation Sans, sans-serif">P.aeruginosa</text>
<text x="158.9" y="259.6" font-size="8.3" font-weight="bold" text-anchor="middle" style="stroke-width:0.18px" font-family="Liberation Sans, sans-serif"><tspan font-weight="normal" font-family="Liberation Serif, serif" font-size="9.6">α</tspan>MD-2</text>
<text transform="translate(112.77,289.80) rotate(-89.95)" x="-23.6" font-size="6.0" textLength="47.2" lengthAdjust="spacingAndGlyphs" style="stroke-width:0.3px" font-family="Liberation Sans, sans-serif">% IL-6 production</text>
<line x1="129.7" y1="286.1" x2="146.2" y2="286.1" stroke="#333" stroke-width="0.7"/>
<circle cx="137.7" cy="275.7" r="1.4" fill="#000"/>
<circle cx="137.7" cy="296.6" r="1.4" fill="#000"/>
<line x1="153.8" y1="278.4" x2="170.8" y2="278.4" stroke="#333" stroke-width="0.7"/>
<rect x="160.5" y="265.6" width="3.0" height="3.0" fill="#000"/>
<rect x="160.5" y="282.8" width="3.0" height="3.0" fill="#000"/>
<rect x="165.1" y="282.3" width="3.0" height="3.0" fill="#000"/>
<line x1="179" y1="289.2" x2="195.5" y2="289.2" stroke="#333" stroke-width="0.7"/>
<path d="M187.2,291.4 L188.89999999999998,288.34 L185.5,288.34 Z" fill="#000"/>
<path d="M191.7,289.7 L193.39999999999998,286.64 L190.0,286.64 Z" fill="#000"/>
<line x1="231.5" y1="268.0" x2="231.5" y2="315.2" stroke="#2a2a2a" stroke-width="0.95"/>
<line x1="231.05" y1="315.2" x2="305.2" y2="315.2" stroke="#2a2a2a" stroke-width="0.95"/>
<line x1="229.7" y1="313.10" x2="231.5" y2="313.10" stroke="#2a2a2a" stroke-width="0.7"/>
<text x="230.0" y="315.25" font-size="5.2" text-anchor="end" style="stroke-width:0.3px" font-family="Liberation Sans, sans-serif">0</text>
<line x1="229.7" y1="301.90" x2="231.5" y2="301.90" stroke="#2a2a2a" stroke-width="0.7"/>
<text x="230.0" y="304.05" font-size="5.2" text-anchor="end" style="stroke-width:0.3px" font-family="Liberation Sans, sans-serif">25</text>
<line x1="229.7" y1="290.70" x2="231.5" y2="290.70" stroke="#2a2a2a" stroke-width="0.7"/>
<text x="230.0" y="292.85" font-size="5.2" text-anchor="end" style="stroke-width:0.3px" font-family="Liberation Sans, sans-serif">50</text>
<line x1="229.7" y1="279.50" x2="231.5" y2="279.50" stroke="#2a2a2a" stroke-width="0.7"/>
<text x="230.0" y="281.65" font-size="5.2" text-anchor="end" style="stroke-width:0.3px" font-family="Liberation Sans, sans-serif">75</text>
<line x1="229.7" y1="268.30" x2="231.5" y2="268.30" stroke="#2a2a2a" stroke-width="0.7"/>
<text x="230.0" y="270.45" font-size="5.2" text-anchor="end" style="stroke-width:0.3px" font-family="Liberation Sans, sans-serif">100</text>
<line x1="243.8" y1="315.2" x2="243.8" y2="317.2" stroke="#2a2a2a" stroke-width="0.7"/>
<text transform="translate(246.20,317.50) rotate(-89.95)" font-size="6.05" font-style="italic" text-anchor="end" style="stroke-width:0.22px" font-family="Liberation Sans, sans-serif">E.coli WT</text>
<line x1="268.4" y1="315.2" x2="268.4" y2="317.2" stroke="#2a2a2a" stroke-width="0.7"/>
<text transform="translate(270.80,317.50) rotate(-89.95)" font-size="6.05" font-style="italic" text-anchor="end" style="stroke-width:0.22px" font-family="Liberation Sans, sans-serif">K.pneumonia</text>
<line x1="293.3" y1="315.2" x2="293.3" y2="317.2" stroke="#2a2a2a" stroke-width="0.7"/>
<text transform="translate(295.70,317.50) rotate(-89.95)" font-size="6.05" font-style="italic" text-anchor="end" style="stroke-width:0.22px" font-family="Liberation Sans, sans-serif">P.aeruginosa</text>
<text x="264" y="257.8" font-size="8.3" font-weight="bold" text-anchor="middle" style="stroke-width:0.18px" font-family="Liberation Sans, sans-serif"><tspan font-weight="normal" font-family="Liberation Serif, serif" font-size="9.6">α</tspan>TLR2</text>
<text transform="translate(218.27,290.70) rotate(-89.95)" x="-23.6" font-size="6.0" textLength="47.2" lengthAdjust="spacingAndGlyphs" style="stroke-width:0.3px" font-family="Liberation Sans, sans-serif">% IL-6 production</text>
<line x1="235.6" y1="277.1" x2="251.7" y2="277.1" stroke="#333" stroke-width="0.7"/>
<circle cx="243.8" cy="268.9" r="1.4" fill="#000"/>
<circle cx="243.8" cy="273.7" r="1.4" fill="#000"/>
<circle cx="243.8" cy="279.3" r="1.4" fill="#000"/>
<circle cx="243.8" cy="286.4" r="1.4" fill="#000"/>
<line x1="259.3" y1="273.1" x2="276.3" y2="273.1" stroke="#333" stroke-width="0.7"/>
<rect x="261.8" y="267.0" width="3.0" height="3.0" fill="#000"/>
<rect x="266.3" y="269.5" width="3.0" height="3.0" fill="#000"/>
<rect x="266.3" y="277.5" width="3.0" height="3.0" fill="#000"/>
<line x1="284" y1="272.4" x2="300.7" y2="272.4" stroke="#333" stroke-width="0.7"/>
<path d="M292.5,270.2 L294.2,267.14 L290.8,267.14 Z" fill="#000"/>
<path d="M292.5,277.8 L294.2,274.74 L290.8,274.74 Z" fill="#000"/>
<line x1="336.5" y1="266.59999999999997" x2="336.5" y2="314.2" stroke="#2a2a2a" stroke-width="0.95"/>
<line x1="336.05" y1="314.2" x2="410.4" y2="314.2" stroke="#2a2a2a" stroke-width="0.95"/>
<line x1="334.7" y1="312.20" x2="336.5" y2="312.20" stroke="#2a2a2a" stroke-width="0.7"/>
<text x="335.0" y="314.35" font-size="5.2" text-anchor="end" style="stroke-width:0.3px" font-family="Liberation Sans, sans-serif">0</text>
<line x1="334.7" y1="300.88" x2="336.5" y2="300.88" stroke="#2a2a2a" stroke-width="0.7"/>
<text x="335.0" y="303.02" font-size="5.2" text-anchor="end" style="stroke-width:0.3px" font-family="Liberation Sans, sans-serif">25</text>
<line x1="334.7" y1="289.55" x2="336.5" y2="289.55" stroke="#2a2a2a" stroke-width="0.7"/>
<text x="335.0" y="291.70" font-size="5.2" text-anchor="end" style="stroke-width:0.3px" font-family="Liberation Sans, sans-serif">50</text>
<line x1="334.7" y1="278.22" x2="336.5" y2="278.22" stroke="#2a2a2a" stroke-width="0.7"/>
<text x="335.0" y="280.37" font-size="5.2" text-anchor="end" style="stroke-width:0.3px" font-family="Liberation Sans, sans-serif">75</text>
<line x1="334.7" y1="266.90" x2="336.5" y2="266.90" stroke="#2a2a2a" stroke-width="0.7"/>
<text x="335.0" y="269.05" font-size="5.2" text-anchor="end" style="stroke-width:0.3px" font-family="Liberation Sans, sans-serif">100</text>
<line x1="349.1" y1="314.2" x2="349.1" y2="316.2" stroke="#2a2a2a" stroke-width="0.7"/>
<text transform="translate(351.50,316.50) rotate(-89.95)" font-size="6.05" font-style="italic" text-anchor="end" style="stroke-width:0.22px" font-family="Liberation Sans, sans-serif">E.coli WT</text>
<line x1="373.5" y1="314.2" x2="373.5" y2="316.2" stroke="#2a2a2a" stroke-width="0.7"/>
<text transform="translate(375.90,316.50) rotate(-89.95)" font-size="6.05" font-style="italic" text-anchor="end" style="stroke-width:0.22px" font-family="Liberation Sans, sans-serif">K.pneumonia</text>
<line x1="398.3" y1="314.2" x2="398.3" y2="316.2" stroke="#2a2a2a" stroke-width="0.7"/>
<text transform="translate(400.70,316.50) rotate(-89.95)" font-size="6.05" font-style="italic" text-anchor="end" style="stroke-width:0.22px" font-family="Liberation Sans, sans-serif">P.aeruginosa</text>
<text x="370" y="257.1" font-size="8.3" font-weight="bold" text-anchor="middle" style="stroke-width:0.18px" font-family="Liberation Sans, sans-serif"><tspan font-weight="normal" font-family="Liberation Serif, serif" font-size="9.6">α</tspan>TLR2 + <tspan font-weight="normal" font-family="Liberation Serif, serif" font-size="9.6">α</tspan>TLR4</text>
<text transform="translate(323.87,289.55) rotate(-89.95)" x="-23.6" font-size="6.0" textLength="47.2" lengthAdjust="spacingAndGlyphs" style="stroke-width:0.3px" font-family="Liberation Sans, sans-serif">% IL-6 production</text>
<line x1="340.6" y1="309" x2="357" y2="309" stroke="#333" stroke-width="0.7"/>
<circle cx="344.8" cy="303.4" r="1.4" fill="#000"/>
<circle cx="349.1" cy="308" r="1.4" fill="#000"/>
<circle cx="349.1" cy="312.5" r="1.4" fill="#000"/>
<circle cx="353.9" cy="312" r="1.4" fill="#000"/>
<line x1="365.2" y1="311" x2="381.5" y2="311" stroke="#333" stroke-width="0.7"/>
<rect x="367.3" y="307.7" width="3.0" height="3.0" fill="#000"/>
<rect x="371.7" y="310.6" width="3.0" height="3.0" fill="#000"/>
<rect x="376.3" y="309.8" width="3.0" height="3.0" fill="#000"/>
<line x1="389.6" y1="311.3" x2="406.3" y2="311.3" stroke="#333" stroke-width="0.7"/>
<path d="M397.9,313.59999999999997 L399.59999999999997,310.53999999999996 L396.2,310.53999999999996 Z" fill="#000"/>
<path d="M402,311.3 L403.7,308.24 L400.3,308.24 Z" fill="#000"/>
<line x1="441.5" y1="266.9" x2="441.5" y2="314.5" stroke="#2a2a2a" stroke-width="0.95"/>
<line x1="441.05" y1="314.5" x2="515.2" y2="314.5" stroke="#2a2a2a" stroke-width="0.95"/>
<line x1="439.7" y1="312.40" x2="441.5" y2="312.40" stroke="#2a2a2a" stroke-width="0.7"/>
<text x="440.0" y="314.55" font-size="5.2" text-anchor="end" style="stroke-width:0.3px" font-family="Liberation Sans, sans-serif">0</text>
<line x1="439.7" y1="301.10" x2="441.5" y2="301.10" stroke="#2a2a2a" stroke-width="0.7"/>
<text x="440.0" y="303.25" font-size="5.2" text-anchor="end" style="stroke-width:0.3px" font-family="Liberation Sans, sans-serif">25</text>
<line x1="439.7" y1="289.80" x2="441.5" y2="289.80" stroke="#2a2a2a" stroke-width="0.7"/>
<text x="440.0" y="291.95" font-size="5.2" text-anchor="end" style="stroke-width:0.3px" font-family="Liberation Sans, sans-serif">50</text>
<line x1="439.7" y1="278.50" x2="441.5" y2="278.50" stroke="#2a2a2a" stroke-width="0.7"/>
<text x="440.0" y="280.65" font-size="5.2" text-anchor="end" style="stroke-width:0.3px" font-family="Liberation Sans, sans-serif">75</text>
<line x1="439.7" y1="267.20" x2="441.5" y2="267.20" stroke="#2a2a2a" stroke-width="0.7"/>
<text x="440.0" y="269.35" font-size="5.2" text-anchor="end" style="stroke-width:0.3px" font-family="Liberation Sans, sans-serif">100</text>
<line x1="454.1" y1="314.5" x2="454.1" y2="316.5" stroke="#2a2a2a" stroke-width="0.7"/>
<text transform="translate(456.50,316.80) rotate(-89.95)" font-size="6.05" font-style="italic" text-anchor="end" style="stroke-width:0.22px" font-family="Liberation Sans, sans-serif">E.coli WT</text>
<line x1="478.1" y1="314.5" x2="478.1" y2="316.5" stroke="#2a2a2a" stroke-width="0.7"/>
<text transform="translate(480.50,316.80) rotate(-89.95)" font-size="6.05" font-style="italic" text-anchor="end" style="stroke-width:0.22px" font-family="Liberation Sans, sans-serif">K.pneumonia</text>
<line x1="503.2" y1="314.5" x2="503.2" y2="316.5" stroke="#2a2a2a" stroke-width="0.7"/>
<text transform="translate(505.60,316.80) rotate(-89.95)" font-size="6.05" font-style="italic" text-anchor="end" style="stroke-width:0.22px" font-family="Liberation Sans, sans-serif">P.aeruginosa</text>
<text x="474.8" y="257.8" font-size="8.3" font-weight="bold" text-anchor="middle" style="stroke-width:0.18px" font-family="Liberation Sans, sans-serif"><tspan font-weight="normal" font-family="Liberation Serif, serif" font-size="9.6">α</tspan>CD14</text>
<text transform="translate(428.87,289.80) rotate(-89.95)" x="-23.6" font-size="6.0" textLength="47.2" lengthAdjust="spacingAndGlyphs" style="stroke-width:0.3px" font-family="Liberation Sans, sans-serif">% IL-6 production</text>
<line x1="445.6" y1="300" x2="461.7" y2="300" stroke="#333" stroke-width="0.7"/>
<circle cx="454.1" cy="295.8" r="1.4" fill="#000"/>
<circle cx="458.3" cy="293.2" r="1.4" fill="#000"/>
<circle cx="454.1" cy="300.6" r="1.4" fill="#000"/>
<circle cx="454.1" cy="310.2" r="1.4" fill="#000"/>
<line x1="469.6" y1="303" x2="486.5" y2="303" stroke="#333" stroke-width="0.7"/>
<rect x="472.2" y="297.9" width="3.0" height="3.0" fill="#000"/>
<rect x="476.6" y="298.6" width="3.0" height="3.0" fill="#000"/>
<rect x="476.6" y="306.7" width="3.0" height="3.0" fill="#000"/>
<line x1="494.7" y1="301.8" x2="511" y2="301.8" stroke="#333" stroke-width="0.7"/>
<path d="M502.7,299.0 L504.4,295.94 L501.0,295.94 Z" fill="#000"/>
<path d="M502.7,307.09999999999997 L504.4,304.03999999999996 L501.0,304.03999999999996 Z" fill="#000"/>
</svg>
</body></html>
